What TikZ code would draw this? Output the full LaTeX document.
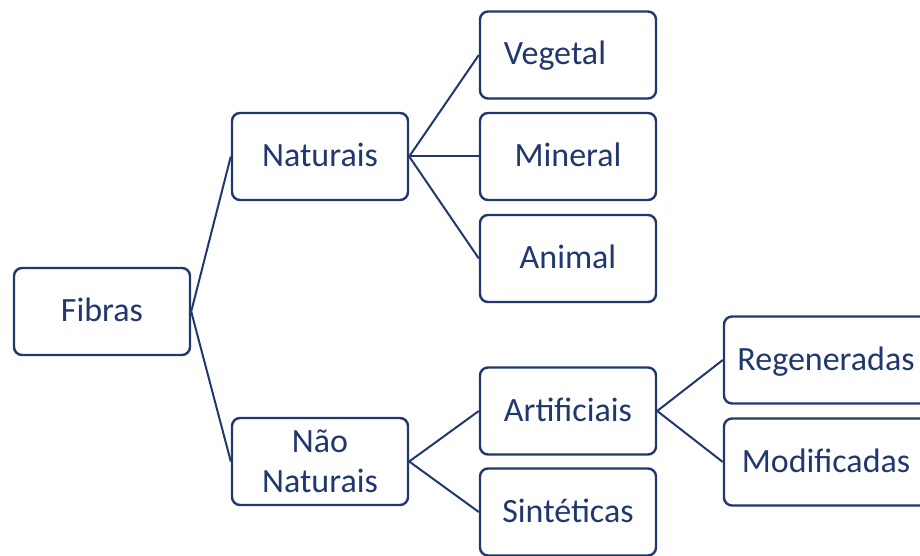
\documentclass[tikz,border=0pt]{standalone}
\usepackage{fontspec}
\setmainfont{Carlito}
\definecolor{navy}{RGB}{32,56,110}
\begin{document}
\begin{tikzpicture}[x=1pt,y=-1pt,
  box/.style={draw=navy, line width=2.4pt, rounded corners=8pt, fill=white,
    minimum width=176pt, minimum height=87pt, inner sep=0pt,
    text=navy, font=\fontsize{34}{40}\selectfont,
    text height=25pt, text depth=5pt},
  box2/.style={draw=navy, line width=2.4pt, rounded corners=8pt, fill=white,
    minimum width=176pt, minimum height=87pt, inner sep=0pt,
    text=navy, font=\fontsize{34}{39.5}\selectfont, align=center},
  wide/.style={box, minimum width=204pt},
  link/.style={draw=navy, line width=2pt}]
\useasboundingbox (0,0) rectangle (920,556);
\clip (0,0) rectangle (920,556);
\node[box] (fib) at (102,311.5) {Fibras};
\node[box] (nat) at (320,156.5) {Naturais};
\node[box2] (nn) at (320,461.5) {Não\\Naturais};
\node[box] (veg) at (568,55) {Vegetal\kern26pt};
\node[box] (min) at (568,156.5) {Mineral};
\node[box] (ani) at (568,258.5) {Animal};
\node[box] (art) at (568,411) {Artificiais};
\node[box] (sin) at (568,512) {Sintéticas};
\node[wide] (reg) at (826,360) {Regeneradas};
\node[wide] (mod) at (826,462) {Modificadas};
\draw[link] (fib.east) -- (nat.west);
\draw[link] (fib.east) -- (nn.west);
\draw[link] (nat.east) -- (veg.west);
\draw[link] (nat.east) -- (min.west);
\draw[link] (nat.east) -- (ani.west);
\draw[link] (nn.east) -- (art.west);
\draw[link] (nn.east) -- (sin.west);
\draw[link] (art.east) -- (reg.west);
\draw[link] (art.east) -- (mod.west);
\end{tikzpicture}
\end{document}
